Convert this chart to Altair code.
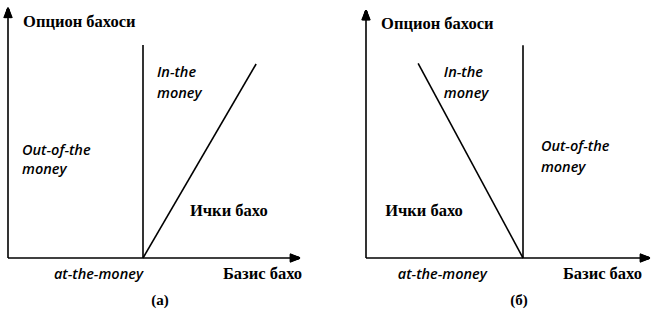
import altair as alt
import pandas as pd

# Strike price on the underlying-price axis
STRIKE = 5.0

# Panel (a): call option payoff, value = S - K above the strike
call_payoff_s = [5.0, 9.19]
call_payoff_v = [0.0, 4.19]
# Panel (b): put option payoff, value = K - S below the strike
put_payoff_s = [1.66, 5.0]
put_payoff_v = [3.34, 0.0]

# Axis extents (arrow tips) and height of the strike line, per panel
axis_x_end = [10.81, 9.04]
axis_y_end = [5.40, 4.25]
strike_line_top = [4.60, 3.65]

# Annotation texts
y_title = "Опцион бахоси"
x_title = "Базис бахо"
intrinsic = "Ички бахо"
atm = "at-the-money"
itm = ["In-the", "money"]
otm = ["Out-of-the", "money"]
panel_tags = ["(а)", "(б)"]

# Annotation anchors in data units for each panel
label_pos_a = {
    "ytitle": (0.56, 5.10), "itm": (5.52, 4.00, 3.54), "otm": (0.52, 2.31, 1.90),
    "intr": (6.74, 1.02), "atm": (5.0, -0.37), "xtitle": (7.96, -0.35), "tag": (5.63, -0.91),
}
label_pos_b = {
    "ytitle": (0.48, 4.01), "itm": (2.48, 3.17, 2.81), "otm": (5.57, 1.90, 1.54),
    "intr": (0.61, 0.81), "atm": (3.85, -0.29), "xtitle": (6.27, -0.27), "tag": (4.87, -0.72),
}

PANEL_W, PANEL_H = 326, 320
SERIF = "Liberation Serif"
ITALIC = "Open Sans"
HEAD_LEN_PX, HEAD_HALF_W_PX = 10, 4.0


def panel(origin_px, unit_x, unit_y, payoff_s, payoff_v, i, pos):
    """One payoff diagram; origin_px is the (x, y) pixel of the axes' corner."""
    ox, oy = origin_px
    xs = alt.Scale(domain=[-ox / unit_x, (PANEL_W - ox) / unit_x], nice=False, zero=False)
    ys = alt.Scale(domain=[-(PANEL_H - oy) / unit_y, oy / unit_y], nice=False, zero=False)
    X = lambda f="s": alt.X(f"{f}:Q", scale=xs, axis=None)
    Y = lambda f="v": alt.Y(f"{f}:Q", scale=ys, axis=None)

    # Axis lines and the vertical line at the strike
    rows = [
        (0.0, 0.0, axis_x_end[i] - 0.2, 0.0),
        (0.0, 0.0, 0.0, axis_y_end[i] - 0.15),
        (STRIKE, 0.0, STRIKE, strike_line_top[i]),
    ]
    # Arrowheads, filled by a fan of short strokes from each tip to its base
    hx, hy = HEAD_LEN_PX / unit_x, HEAD_LEN_PX / unit_y
    steps = [k / 2 for k in range(-8, 9)]
    for d in steps:
        rows.append((axis_x_end[i], 0.0, axis_x_end[i] - hx, d / unit_y))
        rows.append((0.0, axis_y_end[i], d / unit_x, axis_y_end[i] - hy))
    segs = pd.DataFrame(rows, columns=["s", "v", "s2", "v2"])
    axes = alt.Chart(segs).mark_rule(color="black", strokeWidth=1.6).encode(
        x=X(), y=Y(), x2="s2:Q", y2="v2:Q")

    pay = alt.Chart(pd.DataFrame({"s": payoff_s, "v": payoff_v})).mark_line(
        color="black", strokeWidth=1.6).encode(x=X(), y=Y())

    def txt(rows, font, size, style="normal", weight="bold", align="left"):
        return alt.Chart(pd.DataFrame(rows, columns=["s", "v", "t"])).mark_text(
            font=font, fontSize=size, fontStyle=style, fontWeight=weight,
            align=align, baseline="middle", color="black").encode(x=X(), y=Y(), text="t:N")

    serif_left = txt([
        (*pos["ytitle"], y_title), (*pos["intr"], intrinsic), (*pos["xtitle"], x_title),
    ], SERIF, 16.5)
    italic_left = txt([
        (pos["itm"][0], pos["itm"][1], itm[0]), (pos["itm"][0], pos["itm"][2], itm[1]),
        (pos["otm"][0], pos["otm"][1], otm[0]), (pos["otm"][0], pos["otm"][2], otm[1]),
    ], ITALIC, 14.5, style="italic", weight=600)
    italic_right = txt([(*pos["atm"], atm)], ITALIC, 14.5, style="italic", weight=600, align="right")
    tag = txt([(*pos["tag"], panel_tags[i])], SERIF, 15, align="center")

    return alt.layer(axes, pay, serif_left, italic_left, italic_right, tag).properties(
        width=PANEL_W, height=PANEL_H)


left = panel((8, 258), 27.0, 46.3, call_payoff_s, call_payoff_v, 0, label_pos_a)
right = panel((40, 258), 31.4, 58.3, put_payoff_s, put_payoff_v, 1, label_pos_b)

chart = alt.hconcat(left, right, spacing=0).properties(
    padding=0, background="white"
).configure_view(stroke=None).configure_concat(spacing=0)

chart.save("out.html", embed_options={"renderer": "svg", "actions": False})
